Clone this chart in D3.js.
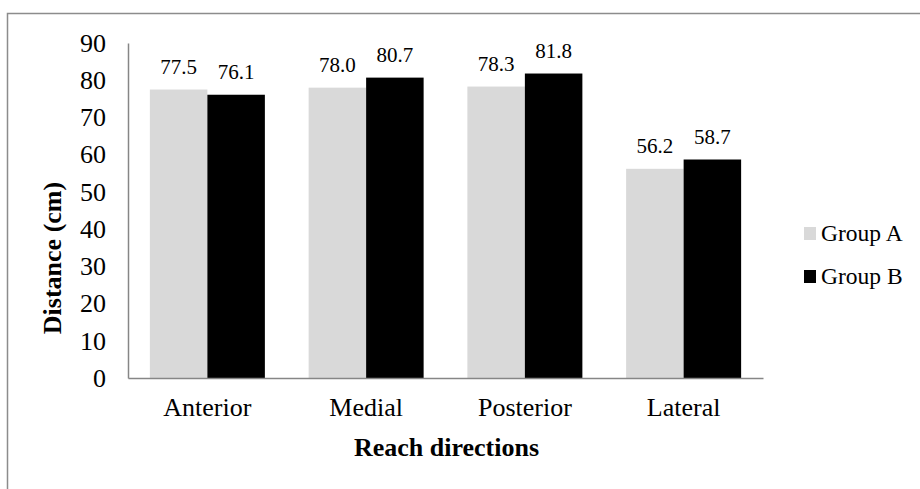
<!DOCTYPE html>
<html>
<head>
<meta charset="utf-8">
<script src="https://cdn.jsdelivr.net/npm/d3@7"></script>
<style>
  html, body { margin: 0; padding: 0; background: #fff; }
  svg { display: block; font-family: "Liberation Serif", "Times New Roman", serif; }
</style>
</head>
<body>
<svg id="chart" width="920" height="489"></svg>
<script>
// Reach distances by direction for two groups
const categories = ["Anterior", "Medial", "Posterior", "Lateral"];
const seriesNames = ["Group A", "Group B"];
const groupA = [77.5, 78.0, 78.3, 56.2];
const groupB = [76.1, 80.7, 81.8, 58.7];
const yTicks = [0, 10, 20, 30, 40, 50, 60, 70, 80, 90];
const colors = ["#d9d9d9", "#000000"];

const svg = d3.select("#chart");

// outer frame (runs off the right and bottom edges)
svg.append("rect")
  .attr("x", 7.5).attr("y", 13.5)
  .attr("width", 1000).attr("height", 1000)
  .attr("fill", "none").attr("stroke", "#8c8c8c").attr("stroke-width", 1.5);

const plot = { left: 128, right: 763, top: 43, bottom: 378 };

const x0 = d3.scaleBand()
  .domain(categories)
  .range([plot.left, plot.right])
  .paddingInner(0.2756)
  .paddingOuter(0.1378);

const x1 = d3.scaleBand()
  .domain(seriesNames)
  .range([0, x0.bandwidth()])
  .padding(0);

const y = d3.scaleLinear().domain([0, 90]).range([plot.bottom, plot.top]);

const color = d3.scaleOrdinal().domain(seriesNames).range(colors);

const rows = categories.map((c, i) => ({
  cat: c,
  vals: [
    { key: "Group A", value: groupA[i] },
    { key: "Group B", value: groupB[i] }
  ]
}));

// bars
const g = svg.append("g");
const groups = g.selectAll("g.cat").data(rows).join("g")
  .attr("class", "cat")
  .attr("transform", d => `translate(${x0(d.cat)},0)`);

groups.selectAll("rect").data(d => d.vals).join("rect")
  .attr("x", d => x1(d.key))
  .attr("y", d => y(d.value))
  .attr("width", x1.bandwidth())
  .attr("height", d => y(0) - y(d.value))
  .attr("fill", d => color(d.key));

// value labels
groups.selectAll("text").data(d => d.vals).join("text")
  .attr("x", d => x1(d.key) + x1.bandwidth() / 2)
  .attr("y", d => y(d.value) - 16)
  .attr("text-anchor", "middle")
  .attr("font-size", 21)
  .attr("fill", "#000")
  .text(d => d.value.toFixed(1));

// y axis
const yAxis = svg.append("g")
  .attr("transform", `translate(${plot.left},0)`)
  .call(d3.axisLeft(y).tickValues(yTicks).tickSize(0).tickPadding(22));
yAxis.select(".domain").attr("stroke", "#868686").attr("stroke-width", 1.5);
yAxis.selectAll("text")
  .attr("font-size", 26)
  .attr("font-family", "Liberation Serif, serif")
  .attr("fill", "#000");

// x axis
const xAxis = svg.append("g")
  .attr("transform", `translate(0,${plot.bottom})`)
  .call(d3.axisBottom(x0).tickSize(0).tickPadding(20));
xAxis.select(".domain").attr("stroke", "#868686").attr("stroke-width", 1.5);
xAxis.selectAll("text")
  .attr("font-size", 26)
  .attr("font-family", "Liberation Serif, serif")
  .attr("fill", "#000");

// axis titles
svg.append("text")
  .attr("x", (plot.left + plot.right) / 2 + 1)
  .attr("y", 456)
  .attr("text-anchor", "middle")
  .attr("font-size", 26)
  .attr("font-weight", "bold")
  .text("Reach directions");

svg.append("text")
  .attr("transform", "translate(61,258) rotate(-90)")
  .attr("text-anchor", "middle")
  .attr("font-size", 26)
  .attr("font-weight", "bold")
  .text("Distance (cm)");

// legend
const legend = svg.append("g").attr("transform", "translate(804,227)");
const items = legend.selectAll("g").data(seriesNames).join("g")
  .attr("transform", (d, i) => `translate(0,${i * 43})`);
items.append("rect")
  .attr("width", 12).attr("height", 13)
  .attr("fill", d => color(d));
items.append("text")
  .attr("x", 17).attr("y", 14)
  .attr("font-size", 23.5)
  .text(d => d);
</script>
</body>
</html>
